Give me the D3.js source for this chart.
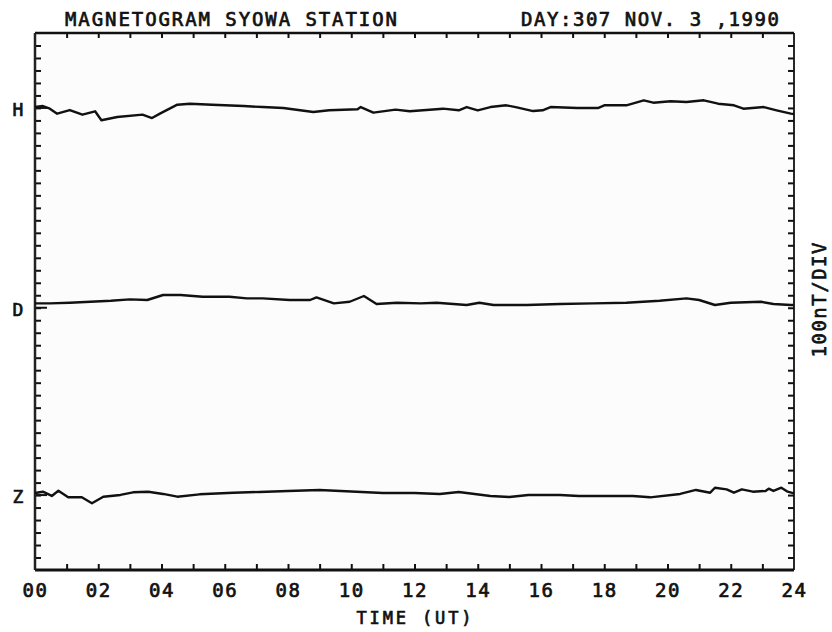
<!DOCTYPE html>
<html>
<head>
<meta charset="utf-8">
<script src="https://cdn.jsdelivr.net/npm/d3@7"></script>
<style>
  body { margin: 0; background: #fff; }
  text { font-family: "DejaVu Sans Mono", monospace; fill: #111; stroke: #111; stroke-width: 0.7; }
</style>
</head>
<body>
<svg width="832" height="632"></svg>
<script>
// components and their baseline level (nT, 100 nT per division)
var components = ["H", "D", "Z"];
var baselines = [3700, 2100, 600];

// hours (UT) and deviation from baseline in nT
var hoursH = [0, 0.25, 0.47, 0.7, 1.1, 1.5, 1.9, 2.1, 2.6, 3.4, 3.7, 3.95, 4.5, 4.9, 5.6, 6.6, 7.2, 7.85, 8.8, 9.3, 10.2, 10.3, 10.7, 11.4, 11.85, 12.9, 13.4, 13.65, 14, 14.4, 14.9, 15.2, 15.75, 16.05, 16.3, 17.15, 17.8, 18, 18.7, 19.25, 19.55, 20.1, 20.6, 21.15, 21.6, 22.1, 22.4, 23.05, 23.45, 23.9, 24];
var valuesH = [7, 15, -6, -46, -17, -54, -27, -99, -73, -54, -81, -46, 26, 34, 26, 15, 7, -1, -33, -19, -11, 7, -38, -14, -27, -6, -19, 7, -19, 7, 21, 7, -25, -19, 7, -1, -1, 21, 21, 61, 42, 53, 47, 61, 34, 21, -6, 7, -19, -46, -49];

var hoursD = [0, 0.47, 1.1, 1.75, 2.4, 3, 3.55, 4.05, 4.6, 5.3, 6.15, 6.7, 7.2, 8.05, 8.7, 8.9, 9.45, 9.95, 10.4, 10.8, 11.45, 12.2, 12.7, 13.65, 14.05, 14.5, 15.55, 16.6, 17.65, 18.7, 19.75, 20.6, 21, 21.5, 22, 22.95, 23.35, 23.9, 24];
var valuesD = [35, 35, 40, 48, 56, 67, 62, 102, 102, 88, 88, 75, 75, 62, 62, 83, 35, 48, 94, 30, 40, 35, 40, 22, 40, 22, 22, 30, 35, 40, 56, 75, 62, 22, 40, 48, 30, 22, 22];

var hoursZ = [0, 0.25, 0.53, 0.74, 1.05, 1.48, 1.8, 2.16, 2.7, 3.1, 3.58, 4.05, 4.5, 5.2, 6.27, 7.1, 8, 9, 10, 11, 12, 12.8, 13.4, 14.4, 15, 15.6, 16.6, 17.2, 17.9, 18.9, 19.45, 20.4, 20.9, 21.35, 21.5, 21.87, 22.1, 22.35, 22.7, 23.1, 23.2, 23.35, 23.6, 23.8, 24];
var valuesZ = [17, 27, -7, 35, -18, -18, -66, -13, 1, 22, 27, 9, -13, 6, 19, 25, 33, 41, 29, 17, 17, 9, 25, -7, -15, 1, 1, -7, -7, -7, -18, 9, 41, 19, 59, 46, 19, 46, 27, 33, 51, 33, 59, 27, 14];

var hourTicks = d3.range(0, 25, 2);
var titleLeft = "MAGNETOGRAM SYOWA STATION";
var titleRight = "DAY:307 NOV. 3 ,1990";
var xTitle = "TIME (UT)";
var scaleLabel = "100nT/DIV";

var svg = d3.select("svg");

var x = d3.scaleLinear().domain([0, 24]).range([35, 794]);
var y = d3.scaleLinear().domain([0, 4300]).range([570, 33]);

svg.append("rect")
    .attr("x", x(0)).attr("y", y(4300))
    .attr("width", x(24) - x(0)).attr("height", y(0) - y(4300))
    .attr("fill", "#fcfcfc");

// inward ticks on all four sides
var yTicks = d3.range(100, 4300, 100);
svg.append("g")
    .attr("transform", "translate(" + x(0) + ",0)")
    .call(d3.axisRight(y).tickValues(yTicks).tickSize(6).tickFormat(""))
    .call(g => g.select(".domain").remove())
    .selectAll("line").attr("stroke", "#111").attr("stroke-width", 2);
svg.append("g")
    .attr("transform", "translate(" + x(24) + ",0)")
    .call(d3.axisLeft(y).tickValues(yTicks).tickSize(6).tickFormat(""))
    .call(g => g.select(".domain").remove())
    .selectAll("line").attr("stroke", "#111").attr("stroke-width", 2);
svg.append("g")
    .attr("transform", "translate(0," + y(4300) + ")")
    .call(d3.axisBottom(x).tickValues(d3.range(1, 24)).tickSize(5).tickFormat(""))
    .call(g => g.select(".domain").remove())
    .selectAll("line").attr("stroke", "#111").attr("stroke-width", 2);
svg.append("g")
    .attr("transform", "translate(0," + y(0) + ")")
    .call(d3.axisTop(x).tickValues(d3.range(1, 24)).tickSize(6).tickFormat(""))
    .call(g => g.select(".domain").remove())
    .selectAll("line").attr("stroke", "#111").attr("stroke-width", 2);

// longer baseline ticks
svg.selectAll(".base")
  .data(baselines)
  .enter().append("line")
    .attr("x1", x(0)).attr("x2", x(0) + 12)
    .attr("y1", d => y(d)).attr("y2", d => y(d))
    .attr("stroke", "#111").attr("stroke-width", 2);

// frame
svg.append("line").attr("x1", x(0)).attr("x2", x(24)).attr("y1", y(4300)).attr("y2", y(4300))
    .attr("stroke", "#111").attr("stroke-width", 2.5);
svg.append("line").attr("x1", x(0)).attr("x2", x(24)).attr("y1", y(0)).attr("y2", y(0))
    .attr("stroke", "#111").attr("stroke-width", 3);
svg.append("line").attr("x1", x(0)).attr("x2", x(0)).attr("y1", y(4300)).attr("y2", y(0))
    .attr("stroke", "#222").attr("stroke-width", 2.5);
svg.append("line").attr("x1", x(24)).attr("x2", x(24)).attr("y1", y(4300)).attr("y2", y(0))
    .attr("stroke", "#111").attr("stroke-width", 1.8);

// traces
var series = [
  {hours: hoursH, values: valuesH, base: baselines[0]},
  {hours: hoursD, values: valuesD, base: baselines[1]},
  {hours: hoursZ, values: valuesZ, base: baselines[2]}
];
var line = d3.line()
    .x(d => x(d[0]))
    .y(d => y(d[1]));

svg.selectAll(".trace")
  .data(series)
  .enter().append("path")
    .attr("class", "trace")
    .attr("fill", "none")
    .attr("stroke", "#111")
    .attr("stroke-width", 2.4)
    .attr("stroke-linejoin", "round")
    .attr("d", s => line(s.hours.map((h, i) => [h, s.base + s.values[i]])));

// component labels
svg.selectAll(".comp")
  .data(components)
  .enter().append("text")
    .attr("x", 18)
    .attr("y", (d, i) => y(baselines[i]) + 8)
    .attr("text-anchor", "middle")
    .attr("font-size", 18)
    .text(d => d);

// hour labels
svg.append("g")
    .attr("transform", "translate(0," + y(0) + ")")
    .call(d3.axisBottom(x).tickValues(hourTicks).tickSize(0).tickPadding(14)
      .tickFormat(d3.format("02d")))
    .call(g => g.select(".domain").remove())
    .selectAll("text")
      .attr("font-size", 19)
      .attr("fill", "#111")
      .attr("letter-spacing", 1.5)
      .style("font-family", "'DejaVu Sans Mono', monospace");

svg.append("text")
    .attr("x", 414).attr("y", 624)
    .attr("text-anchor", "middle")
    .attr("font-size", 17)
    .attr("textLength", 115)
    .text(xTitle);

svg.append("text")
    .attr("x", 65).attr("y", 26)
    .attr("font-size", 19)
    .attr("textLength", 332)
    .text(titleLeft);

svg.append("text")
    .attr("x", 521).attr("y", 26)
    .attr("font-size", 19)
    .attr("textLength", 258)
    .text(titleRight);

svg.append("text")
    .attr("transform", "translate(826,300) rotate(-90)")
    .attr("text-anchor", "middle")
    .attr("font-size", 19)
    .attr("textLength", 115)
    .text(scaleLabel);
</script>
</body>
</html>
